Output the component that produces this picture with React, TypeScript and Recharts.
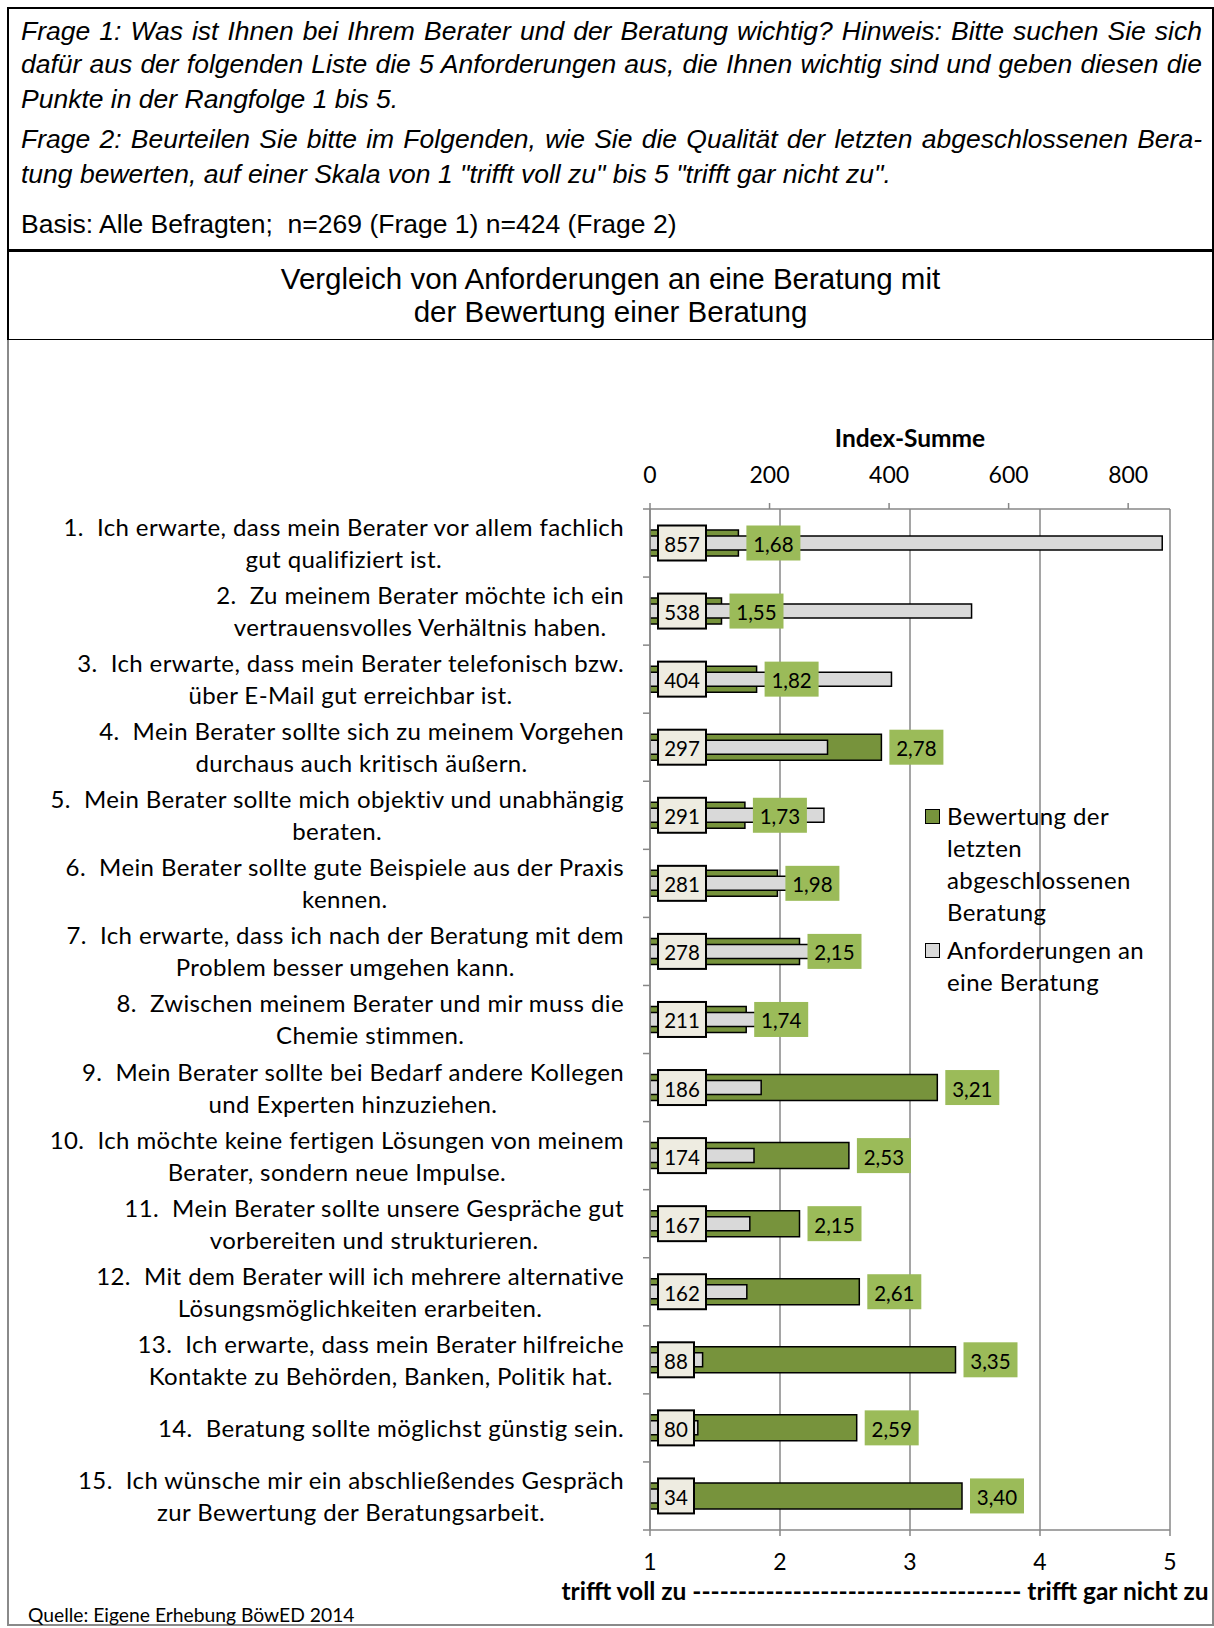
import React from 'react';
import { BarChart, Bar, XAxis, YAxis, CartesianGrid, LabelList, Legend } from 'recharts';

// Kategorien (Anforderungen, Reihenfolge nach Index-Summe)
const labels = [
    '1.  Ich erwarte, dass mein Berater vor allem fachlich\ngut qualifiziert ist.',
    '2.  Zu meinem Berater möchte ich ein\nvertrauensvolles Verhältnis haben.',
    '3.  Ich erwarte, dass mein Berater telefonisch bzw.\nüber E-Mail gut erreichbar ist.',
    '4.  Mein Berater sollte sich zu meinem Vorgehen\ndurchaus auch kritisch äußern.',
    '5.  Mein Berater sollte mich objektiv und unabhängig\nberaten.',
    '6.  Mein Berater sollte gute Beispiele aus der Praxis\nkennen.',
    '7.  Ich erwarte, dass ich nach der Beratung mit dem\nProblem besser umgehen kann.',
    '8.  Zwischen meinem Berater und mir muss die\nChemie stimmen.',
    '9.  Mein Berater sollte bei Bedarf andere Kollegen\nund Experten hinzuziehen.',
    '10.  Ich möchte keine fertigen Lösungen von meinem\nBerater, sondern neue Impulse.',
    '11.  Mein Berater sollte unsere Gespräche gut\nvorbereiten und strukturieren.',
    '12.  Mit dem Berater will ich mehrere alternative\nLösungsmöglichkeiten erarbeiten.',
    '13.  Ich erwarte, dass mein Berater hilfreiche\nKontakte zu Behörden, Banken, Politik hat.',
    '14.  Beratung sollte möglichst günstig sein.',
    '15.  Ich wünsche mir ein abschließendes Gespräch\nzur Bewertung der Beratungsarbeit.',
];

// Index-Summe (Frage 1)
const anforderungen = [857, 538, 404, 297, 291, 281, 278, 211, 186, 174, 167, 162, 88, 80, 34];
// Bewertung 1..5 (Frage 2)
const bewertung = [1.68, 1.55, 1.82, 2.78, 1.73, 1.98, 2.15, 1.74, 3.21, 2.53, 2.15, 2.61, 3.35, 2.59, 3.40];

const indexTicks = [0, 200, 400, 600, 800];
const skalaTicks = [1, 2, 3, 4, 5];

const legendItems = [
    { text: 'Bewertung der\nletzten\nabgeschlossenen\nBeratung', color: '#77933C' },
    { text: 'Anforderungen an\neine Beratung', color: '#D9D9D9' },
];

const data = labels.map((label, i) => ({
    label,
    anforderungen: anforderungen[i],
    bewertung: bewertung[i],
}));

const GREEN = '#77933C';
const LABEL_GREEN = '#9BBB59';
const GREY_BAR = '#D9D9D9';
const BOX = '#EEECE1';
const AXIS = '#878787';
const CALIBRI = 'Lato, "Open Sans", sans-serif';
const ARIAL = '"Liberation Sans", Arial, sans-serif';

function CategoryTick(props: any) {
    const { x, y, payload, index } = props;
    const half = payload?.offset || 34;
    const axisX = x + 26;
    return (
        <g>
            <line x1={axisX - 7} x2={axisX} y1={y - half} y2={y - half} stroke={AXIS} strokeWidth={1.5} />
            {index === labels.length - 1 && (
                <line x1={axisX - 7} x2={axisX} y1={y + half} y2={y + half} stroke={AXIS} strokeWidth={1.5} />
            )}
            <foreignObject x={x - 620} y={y - half} width={620} height={half * 2}>
                <div style={{ width: '100%', height: '100%', display: 'flex', justifyContent: 'flex-end', alignItems: 'center' }}>
                    <div style={{ textAlign: 'center', whiteSpace: 'pre', fontFamily: CALIBRI, fontSize: 24, letterSpacing: 0.4, lineHeight: '32px', color: '#000' }}>
                        {payload.value}
                    </div>
                </div>
            </foreignObject>
        </g>
    );
}

function IndexBox(props: any) {
    const { x, y, height, value } = props;
    const text = String(value);
    const w = 12 + text.length * 12;
    const cy = y + height / 2;
    return (
        <g>
            <rect x={x + 8} y={cy - 17.5} width={w} height={35} fill={BOX} stroke="#000" strokeWidth={2} />
            <text x={x + 8 + w / 2} y={cy + 1} textAnchor="middle" dominantBaseline="central" fontFamily={CALIBRI} fontSize={20.5} fill="#000">
                {text}
            </text>
        </g>
    );
}

function ScoreBox(props: any) {
    const { x, y, width, height, value } = props;
    const text = Number(value).toFixed(2).replace('.', ',');
    const cy = y + height / 2;
    const bx = x + width + 8;
    return (
        <g>
            <rect x={bx} y={cy - 17.5} width={54} height={35} fill={LABEL_GREEN} />
            <text x={bx + 27} y={cy + 1} textAnchor="middle" dominantBaseline="central" fontFamily={CALIBRI} fontSize={20.5} fill="#000">
                {text}
            </text>
        </g>
    );
}

function TopTitle(props: any) {
    const vb = props.viewBox;
    return (
        <text x={vb.x + vb.width / 2} y={vb.y + 18} textAnchor="middle" dominantBaseline="central" fontFamily={CALIBRI} fontSize={24.5} fontWeight={700} fill="#000">
            Index-Summe
        </text>
    );
}

function BottomTitle(props: any) {
    const vb = props.viewBox;
    return (
        <text x={vb.x + vb.width / 2 - 25} y={vb.y + 60} textAnchor="middle" dominantBaseline="central" fontFamily={CALIBRI} fontSize={24.5} fontWeight={700} fill="#000">
            {'trifft voll zu ' + '-'.repeat(36) + ' trifft gar nicht zu'}
        </text>
    );
}

function LegendBox() {
    return (
        <div style={{ fontFamily: CALIBRI, fontSize: 24, letterSpacing: 0.4, lineHeight: '32px', color: '#000' }}>
            {legendItems.map((item) => (
                <div key={item.text} style={{ display: 'flex', alignItems: 'flex-start', marginBottom: 6 }}>
                    <span style={{ width: 15, height: 15, background: item.color, border: '1.5px solid #000', boxSizing: 'border-box', marginTop: 9, marginRight: 7, flex: 'none' }} />
                    <span style={{ whiteSpace: 'pre' }}>{item.text}</span>
                </div>
            ))}
        </div>
    );
}

const lineStyle: React.CSSProperties = {
    position: 'absolute',
    left: 21,
    width: 1181,
    height: 34,
    lineHeight: '34px',
    whiteSpace: 'nowrap',
    fontFamily: ARIAL,
    fontSize: 26.5,
    color: '#000',
};
const justified: React.CSSProperties = { textAlign: 'justify', textAlignLast: 'justify' as any };

export default function App() {
    return (
        <div style={{ position: 'relative', width: 1214, height: 1628, background: '#fff', overflow: 'hidden' }}>
            <style>{'body{margin:0}'}</style>

            {/* Fragen */}
            <div style={{ position: 'absolute', left: 7, top: 7, width: 1207, height: 245, border: '2px solid #000', borderBottomWidth: 3, boxSizing: 'border-box' }} />
            <div style={{ ...lineStyle, ...justified, top: 14, fontStyle: 'italic' }}>
                Frage 1: Was ist Ihnen bei Ihrem Berater und der Beratung wichtig? Hinweis: Bitte suchen Sie sich
            </div>
            <div style={{ ...lineStyle, ...justified, top: 47, fontStyle: 'italic' }}>
                dafür aus der folgenden Liste die 5 Anforderungen aus, die Ihnen wichtig sind und geben diesen die
            </div>
            <div style={{ ...lineStyle, top: 82, fontStyle: 'italic' }}>Punkte in der Rangfolge 1 bis 5.</div>
            <div style={{ ...lineStyle, ...justified, top: 122, fontStyle: 'italic' }}>
                Frage 2: Beurteilen Sie bitte im Folgenden, wie Sie die Qualität der letzten abgeschlossenen Bera-
            </div>
            <div style={{ ...lineStyle, top: 157, fontStyle: 'italic' }}>
                tung bewerten, auf einer Skala von 1 "trifft voll zu" bis 5 "trifft gar nicht zu".
            </div>
            <div style={{ ...lineStyle, top: 207 }}>Basis: Alle Befragten;&nbsp; n=269 (Frage 1) n=424 (Frage 2)</div>

            {/* Titel */}
            <div style={{ position: 'absolute', left: 7, top: 251, width: 1207, height: 89, borderLeft: '2px solid #000', borderRight: '2px solid #000', borderBottom: '1.5px solid #000', boxSizing: 'border-box' }} />
            <div style={{ position: 'absolute', left: 7, top: 263, width: 1207, textAlign: 'center', fontFamily: ARIAL, fontSize: 29.5, lineHeight: '32.5px' }}>
                Vergleich von Anforderungen an eine Beratung mit
                <br />
                der Bewertung einer Beratung
            </div>

            {/* Diagrammbereich */}
            <div style={{ position: 'absolute', left: 7, top: 340, width: 1207, height: 1286, border: '2px solid #8a8a8a', borderTop: 'none', boxSizing: 'border-box' }} />

            <div style={{ position: 'absolute', left: 0, top: 340 }}>
                <BarChart
                    layout="vertical"
                    width={1214}
                    height={1288}
                    data={data}
                    margin={{ top: 79, right: 44, bottom: 28, left: 0 }}
                >
                    <CartesianGrid xAxisId="bottom" yAxisId="a" horizontal={false} stroke={AXIS} strokeWidth={1.5} />
                    <XAxis
                        xAxisId="top"
                        orientation="top"
                        type="number"
                        domain={[0, 870]}
                        ticks={indexTicks}
                        allowDataOverflow
                        height={90}
                        tickSize={6}
                        tickMargin={20}
                        axisLine={{ stroke: AXIS, strokeWidth: 1.5 }}
                        tickLine={{ stroke: AXIS, strokeWidth: 1.5 }}
                        tick={{ fill: '#000', fontSize: 23, fontFamily: CALIBRI }}
                        label={(p: any) => <TopTitle {...p} />}
                    />
                    <XAxis
                        xAxisId="bottom"
                        orientation="bottom"
                        type="number"
                        domain={[1, 5]}
                        ticks={skalaTicks}
                        allowDataOverflow
                        height={70}
                        tickSize={6}
                        tickMargin={18}
                        axisLine={{ stroke: AXIS, strokeWidth: 1.5 }}
                        tickLine={{ stroke: AXIS, strokeWidth: 1.5 }}
                        tick={{ fill: '#000', fontSize: 23, fontFamily: CALIBRI }}
                        label={(p: any) => <BottomTitle {...p} />}
                    />
                    <YAxis
                        yAxisId="a"
                        type="category"
                        dataKey="label"
                        width={650}
                        interval={0}
                        tickSize={6}
                        tickMargin={20}
                        tickLine={false}
                        axisLine={{ stroke: AXIS, strokeWidth: 1.5 }}
                        tick={(p: any) => <CategoryTick {...p} />}
                    />
                    <YAxis yAxisId="b" type="category" dataKey="label" hide />
                    <YAxis yAxisId="c" type="category" dataKey="label" hide />
                    <Legend
                        layout="vertical"
                        align="center"
                        verticalAlign="middle"
                        wrapperStyle={{ position: 'absolute', left: 925, top: 460, width: 280 }}
                        content={() => <LegendBox />}
                    />
                    <Bar
                        xAxisId="bottom"
                        yAxisId="a"
                        dataKey="bewertung"
                        name="Bewertung der letzten abgeschlossenen Beratung"
                        fill={GREEN}
                        stroke="#000"
                        strokeWidth={1.5}
                        barSize={26}
                        isAnimationActive={false}
                    />
                    <Bar
                        xAxisId="top"
                        yAxisId="b"
                        dataKey="anforderungen"
                        name="Anforderungen an eine Beratung"
                        fill={GREY_BAR}
                        stroke="#000"
                        strokeWidth={1.5}
                        barSize={14}
                        isAnimationActive={false}
                    >
                        <LabelList dataKey="anforderungen" content={(p: any) => <IndexBox {...p} />} />
                    </Bar>
                    <Bar
                        xAxisId="bottom"
                        yAxisId="c"
                        dataKey="bewertung"
                        fill="transparent"
                        barSize={26}
                        legendType="none"
                        isAnimationActive={false}
                    >
                        <LabelList dataKey="bewertung" content={(p: any) => <ScoreBox {...p} />} />
                    </Bar>
                </BarChart>
            </div>

            <div style={{ position: 'absolute', left: 28, top: 1603, fontFamily: CALIBRI, fontSize: 19.3, lineHeight: '24px', color: '#000' }}>
                Quelle: Eigene Erhebung BöwED 2014
            </div>
        </div>
    );
}
